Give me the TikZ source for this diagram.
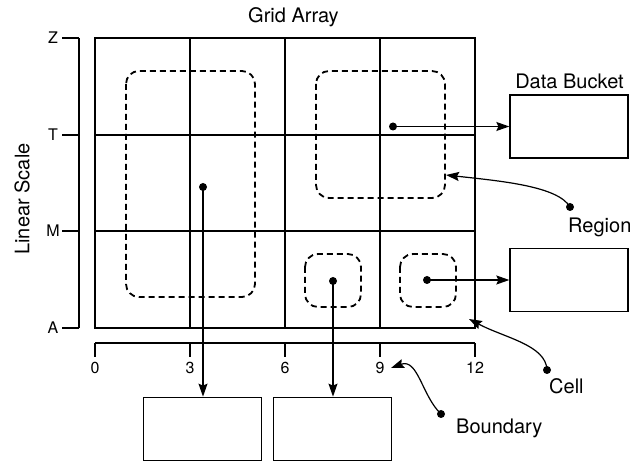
\documentclass[tikz,border=0pt]{standalone}
\usepackage{fontspec}
\setmainfont{TeX Gyre Heros}
\usetikzlibrary{arrows.meta}
\def \colw{31.667}
\def \rowh{96.5}

\begin{document}
\begin{tikzpicture}[x=1pt, y=-1pt,
    every node/.style={inner sep=0pt},
    caption/.style={font=\fontsize{20}{24}\selectfont},
    scalelabel/.style={font=\fontsize{16}{19}\selectfont},
    gridline/.style={line width=1.9pt},
    axisline/.style={line width=1.3pt},
    bucket/.style={draw, line width=1.3pt, minimum width=118pt, minimum height=63pt},
    region/.style={draw, dash pattern=on 6pt off 4pt, line width=1.8pt, rounded corners=13pt},
    dot/.style={circle, fill, minimum size=8pt},
    link/.style={line width=1.2pt, -{Stealth[length=13pt, width=9pt, inset=2pt]}}]
    \useasboundingbox (0,0) rectangle (630,462);

    \node[caption, anchor=base west] (title) at (248,23) {Grid Array};
    \node[caption, rotate=90] (scale) at (22,199) {Linear Scale};

    \draw[gridline] (95,38) rectangle (475,328);
    \foreach \n in {3,6,9}
      \draw[gridline] (95+\n*\colw,38) -- (95+\n*\colw,328);
    \foreach \y in {135,231}
      \draw[gridline] (95,\y) -- (475,\y);

    \draw[axisline] (79,38) -- (79,328);
    \foreach \lab/\y in {Z/38,T/135,M/231,A/328} {
      \node[scalelabel] (L\lab) at (53,\y) {\lab};
      \draw[axisline] (62,\y) -- (79,\y);
    }

    \draw[axisline] (95,343) -- (475,343);
    \foreach \n in {0,3,6,9,12} {
      \node[scalelabel] (N\n) at (95+\n*\colw,368) {\n};
      \draw[axisline] (95+\n*\colw,343) -- ++(0,14);
    }

    \draw[region] (126,71) rectangle (255,297);
    \draw[region] (316,71) rectangle (445,198);
    \draw[region] (305,254) rectangle (361,307);
    \draw[region] (400,254) rectangle (456,307);

    \node[caption, anchor=base] (head) at (569.5,89) {Data Bucket};
    \node[bucket] (B1) at (569,126.5) {};
    \node[bucket] (B2) at (569,280) {};
    \node[bucket] (B3) at (202.5,428.8) {};
    \node[bucket] (B4) at (332.5,428.8) {};

    \node[dot] (P1) at (393,126.5) {};
    \node[dot] (P2) at (427,280) {};
    \node[dot] (P3) at (203,187) {};
    \node[dot] (P4) at (333,281) {};
    \draw[link] (P1.center) -- (B1.west);
    \draw[link] (P2.center) -- (B2.west);
    \draw[link] (P3.center) -- (P3 |- B3.north);
    \draw[link] (P4.center) -- (P4 |- B4.north);

    \node[dot] (RD) at (570,207) {};
    \coordinate (RT) at (446,175);
    \node[caption, anchor=base west] (region) at (568,233) {Region};
    \draw[link] (RD.center) .. controls (558,186) and (500,181) .. (RT);

    \node[dot] (CD) at (547,370) {};
    \coordinate (CT) at (469,319);
    \node[caption, anchor=base west] (cell) at (549,394) {Cell};
    \draw[link] (CD.center) .. controls (546,345) and (505,338) .. (CT);

    \node[dot] (BD) at (441,414) {};
    \coordinate (BT) at (391,368);
    \node[caption, anchor=base west] (boundary) at (456,434) {Boundary};
    \draw[link] (BD.center) .. controls (422,396) and (418,358) .. (BT);
  \end{tikzpicture}
\end{document}
